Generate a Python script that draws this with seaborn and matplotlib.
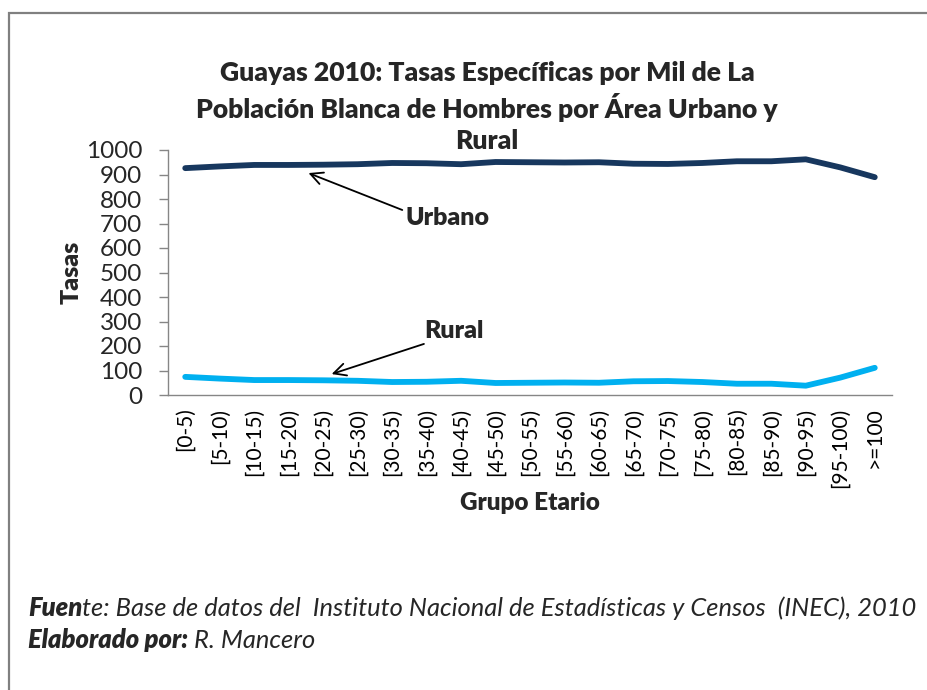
import matplotlib
matplotlib.use("Agg")
import matplotlib.pyplot as plt
import seaborn as sns
import pandas as pd
from matplotlib.patches import Rectangle

# Age groups and rates per thousand (white male population, Guayas 2010)
grupos = ["[0-5)", "[5-10)", "[10-15)", "[15-20)", "[20-25)", "[25-30)", "[30-35)",
          "[35-40)", "[40-45)", "[45-50)", "[50-55)", "[55-60)", "[60-65)", "[65-70)",
          "[70-75)", "[75-80)", "[80-85)", "[85-90)", "[90-95)", "[95-100)", ">=100"]
urbano = [926, 933, 939, 939, 940, 942, 947, 946, 942, 951, 950,
          949, 950, 944, 943, 947, 954, 954, 962, 929, 889]
rural = [74, 67, 61, 61, 60, 58, 53, 54, 58, 49, 50,
         51, 50, 56, 57, 53, 46, 46, 38, 71, 111]
y_ticks = list(range(0, 1001, 100))

sns.set_theme(style="white")
plt.rcParams["font.family"] = ["Lato", "DejaVu Sans"]

n = len(grupos)
df = pd.DataFrame({
    "pos": list(range(n)) * 2,
    "Tasa": urbano + rural,
    "Area": ["Urbano"] * n + ["Rural"] * n,
})

W, H = 927, 690
fig = plt.figure(figsize=(W / 100, H / 100), dpi=100)
fig.patch.set_facecolor("white")

# outer frame
fig.patches.append(Rectangle((8.5 / W, -0.1), 1.2, 1 - 13 / H + 0.1,
                             transform=fig.transFigure, fill=False,
                             edgecolor="#808080", linewidth=1.6))

ax = fig.add_axes([168 / W, 1 - 395 / H, (892 - 168) / W, 245 / H])
sns.lineplot(data=df, x="pos", y="Tasa", hue="Area",
             palette={"Urbano": "#17375E", "Rural": "#00B0F0"},
             linewidth=4.2, legend=False, ax=ax)

ax.set_xlim(-0.5, n - 0.5)
ax.set_ylim(0, 1000)
ax.set_yticks(y_ticks)
ax.set_yticklabels([str(v) for v in y_ticks], fontsize=17.5)
ax.set_xticks(range(n))
ax.set_xticklabels(grupos, rotation=90, fontsize=15)
ax.set_xticks([i - 0.5 for i in range(n + 1)], minor=True)
ax.tick_params(axis="x", which="major", length=0, pad=9, colors="black")
ax.tick_params(axis="x", which="minor", length=6, width=1, color="#868686")
ax.tick_params(axis="y", which="major", length=6.5, width=1, color="#868686",
               pad=12, left=True)

for s in ["top", "right"]:
    ax.spines[s].set_visible(False)
for s in ["left", "bottom"]:
    ax.spines[s].set_color("#868686")
    ax.spines[s].set_linewidth(1)
ax.grid(False)

bold = "heavy"
ax.set_xlabel("")
ax.set_ylabel("")
fig.text(72 / W, 1 - 272 / H, "Tasas", rotation=90, fontsize=18, fontweight=bold,
         ha="center", va="center")
fig.text(530 / W, 1 - 503 / H, "Grupo Etario", fontsize=17.5, fontweight=bold,
         ha="center", va="center")

fig.text(487 / W, 1 - 107 / H,
         "Guayas 2010: Tasas Específicas por Mil de La\n"
         "Población Blanca de Hombres por Área Urbano y\nRural",
         fontsize=19.1, fontweight=bold, ha="center", va="center", linespacing=1.33)

# callouts
arrow = dict(arrowstyle="->", color="black", lw=1.3, mutation_scale=22)
ax.annotate("", xy=(3.5, 910), xytext=(6.37, 751), arrowprops=arrow)
ax.text(7.6, 722, "Urbano", fontsize=18, fontweight=bold, ha="center", va="center")
ax.annotate("", xy=(4.17, 82), xytext=(7.0, 212), arrowprops=arrow)
ax.text(7.79, 261, "Rural", fontsize=18, fontweight=bold, ha="center", va="center")

# source notes
fs = 18.4
t1 = fig.text(28 / W, 1 - 608 / H, "Fuen", fontsize=fs, fontweight=bold,
              style="italic", va="center")
ax.annotate("te: Base de datos del  Instituto Nacional de Estadísticas y Censos  (INEC), 2010",
            xy=(1, 0), xycoords=t1, va="bottom", fontsize=fs, style="italic",
            annotation_clip=False)
t2 = fig.text(28 / W, 1 - 640 / H, "Elaborado por:", fontsize=fs, fontweight=bold,
              style="italic", va="center")
ax.annotate(" R. Mancero", xy=(1, 0), xycoords=t2, va="bottom", fontsize=fs,
            style="italic", annotation_clip=False)

fig.savefig("out.png", dpi=100)
